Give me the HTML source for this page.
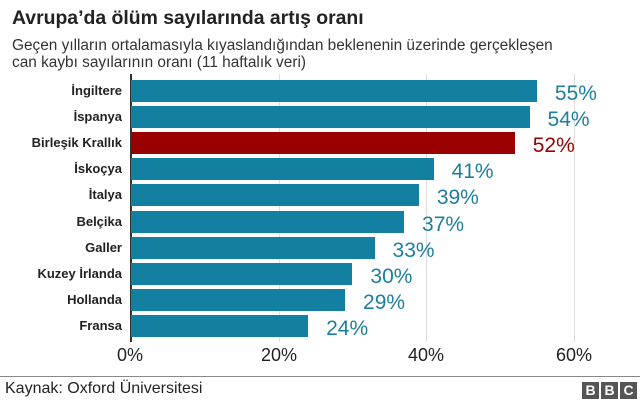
<!DOCTYPE html>
<html><head><meta charset="utf-8"><style>
body{margin:0;width:640px;height:400px;background:#fff;font-family:"Liberation Sans",Arial,sans-serif;position:relative;overflow:hidden}
.t{position:absolute;left:12px;top:7px;font-size:19.4px;font-weight:bold;color:#222}
.s{position:absolute;left:12px;top:37px;font-size:15.4px;line-height:17px;color:#333}
.lab{position:absolute;right:518px;font-size:13px;font-weight:bold;color:#222;text-align:right;white-space:nowrap}
.bar{position:absolute;left:131px;height:22px;background:#1380A1}
.val{position:absolute;font-size:21px;color:#1d7f9c}
.g{position:absolute;top:74px;height:268px;width:1px;background:#ddd}
.tk{position:absolute;top:345px;font-size:18px;color:#222;width:60px;text-align:center}
</style></head><body>
<div class="t">Avrupa’da ölüm sayılarında artış oranı</div>
<div class="s">Geçen yılların ortalamasıyla kıyaslandığından beklenenin üzerinde gerçekleşen<br>can kaybı sayılarının oranı (11 haftalık veri)</div>
<div class="g" style="left:279px"></div><div class="g" style="left:426px"></div><div class="g" style="left:574px"></div>
<div style="position:absolute;left:130px;top:74px;width:2px;height:268px;background:#333"></div>
<div id="c"></div>
<script>
var d=[["İngiltere",55],["İspanya",54],["Birleşik Krallık",52],["İskoçya",41],["İtalya",39],["Belçika",37],["Galler",33],["Kuzey İrlanda",30],["Hollanda",29],["Fransa",24]];
var h="";d.forEach(function(r,i){var y=80+i*26.1,w=r[1]*7.38,red=i==2;
h+='<div class="lab" style="top:'+(y+3)+'px">'+r[0]+'</div>';
h+='<div class="bar" style="top:'+y+'px;width:'+w+'px;'+(red?'background:#990000':'')+'"></div>';
h+='<div class="val" style="top:'+(y+2)+'px;left:'+(131+w+18)+'px;'+(red?'color:#990000':'')+'">'+r[1]+'%</div>';});
document.getElementById("c").innerHTML=h;
</script>
<div class="tk" style="left:100px">0%</div><div class="tk" style="left:249px">20%</div><div class="tk" style="left:396px">40%</div><div class="tk" style="left:544px">60%</div>
<div style="position:absolute;left:0;top:376px;width:640px;height:1px;background:#888"></div>
<div style="position:absolute;left:5px;top:380px;font-size:16px;color:#222">Kaynak: Oxford Üniversitesi</div>
<div style="position:absolute;left:582px;top:382px;display:flex;gap:2px">
<span style="width:17px;height:17px;background:#555;color:#fff;font-weight:bold;font-size:14px;text-align:center;line-height:17px">B</span>
<span style="width:17px;height:17px;background:#555;color:#fff;font-weight:bold;font-size:14px;text-align:center;line-height:17px">B</span>
<span style="width:17px;height:17px;background:#555;color:#fff;font-weight:bold;font-size:14px;text-align:center;line-height:17px">C</span></div>
</body></html>
